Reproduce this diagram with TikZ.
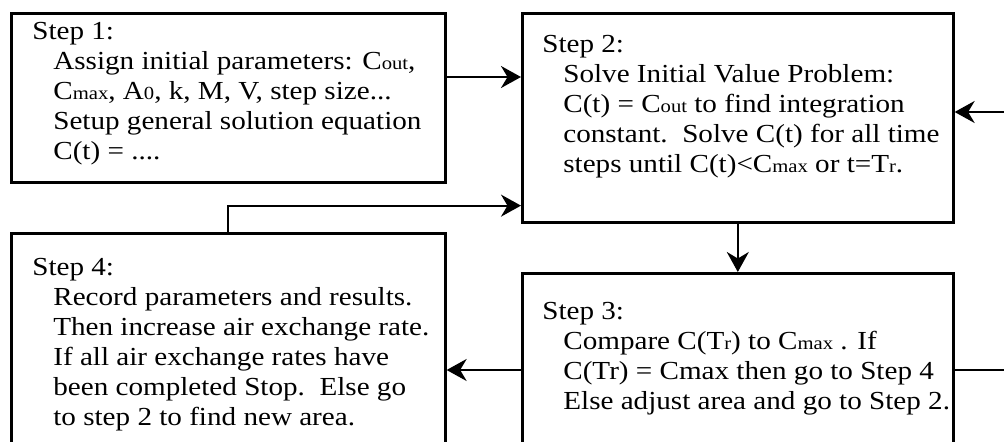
\documentclass[tikz,border=0pt]{standalone}
\usepackage{fontspec}
\setmainfont{Liberation Serif}[FakeStretch=1.12]
\usetikzlibrary{arrows.meta,positioning}
\newcommand\smallpart[1]{{\fontsize{10.5}{12}\selectfont #1}}
\newcommand\ind{\hspace*{0.42cm}}
\tikzset{
	stepbox/.style={draw, line width=1.5pt, anchor=north west, inner sep=0pt},
	steptext/.style={align=left, anchor=north west, inner sep=0pt, font=\fontsize{14.8}{17.07}\selectfont},
	flow/.style={line width=1.2pt, -{Stealth[length=0.4cm, width=0.44cm, inset=0.13cm]}}
}
\begin{document}
\begin{tikzpicture}
	\useasboundingbox (0,0) rectangle (20.08,8.82);
	\node[stepbox, minimum width=8.68cm, minimum height=3.38cm] (b1) at (0.2,8.58) {};
	\node[stepbox, minimum width=8.62cm, minimum height=4.18cm] (b2) at (10.42,8.58) {};
	\node[stepbox, minimum width=8.62cm, minimum height=3.6cm] (b3) at (10.42,3.38) {};
	\node[stepbox, minimum width=8.68cm, minimum height=4.4cm] (b4) at (0.2,4.18) {};
	\node[steptext] (t1) at ([shift={(0.44,-0.2)}]b1.north west) {Step 1:\\
		\ind Assign initial parameters: C\smallpart{out},\\
		\ind C\smallpart{max}, A\smallpart{0}, k, M, V, step size...\\
		\ind Setup general solution equation\\
		\ind C(t) = ....};
	\node[steptext] (t2) at ([shift={(0.42,-0.46)}]b2.north west) {Step 2:\\
		\ind Solve Initial Value Problem:\\
		\ind C(t) = C\smallpart{out} to find integration\\
		\ind constant.\ \ Solve C(t) for all time\\
		\ind steps until C(t)<C\smallpart{max} or t=T\smallpart{r}.};
	\node[steptext] (t3) at ([shift={(0.42,-0.6)}]b3.north west) {Step 3:\\
		\ind Compare C(T\smallpart{r}) to C\smallpart{max} . If\\
		\ind C(Tr) = Cmax then go to Step 4\\
		\ind Else adjust area and go to Step 2.};
	\node[steptext] (t4) at ([shift={(0.44,-0.52)}]b4.north west) {Step 4:\\
		\ind Record parameters and results.\\
		\ind Then increase air exchange rate.\\
		\ind If all air exchange rates have\\
		\ind been completed Stop.\ \ Else go\\
		\ind to step 2 to find new area.};
	\coordinate (c1) at ([yshift=-1.3cm]b1.north east);
	\coordinate (c3) at ([yshift=-1.96cm]b3.north west);
	\coordinate (r3) at ([yshift=-1.96cm]b3.north east);
	\coordinate (r2) at ([yshift=-2cm]b2.north east);
	\coordinate (edge) at (20.2,0);
	\draw[flow] (c1) -- (c1 -| b2.west);
	\draw[flow] (b4.north) |- ([yshift=0.36cm]b2.south west);
	\draw[flow] (b2.south) -- (b3.north);
	\draw[flow] (c3) -- (c3 -| b4.east);
	\draw[flow] (r3) -- (r3 -| edge) |- (r2);
\end{tikzpicture}
\end{document}
